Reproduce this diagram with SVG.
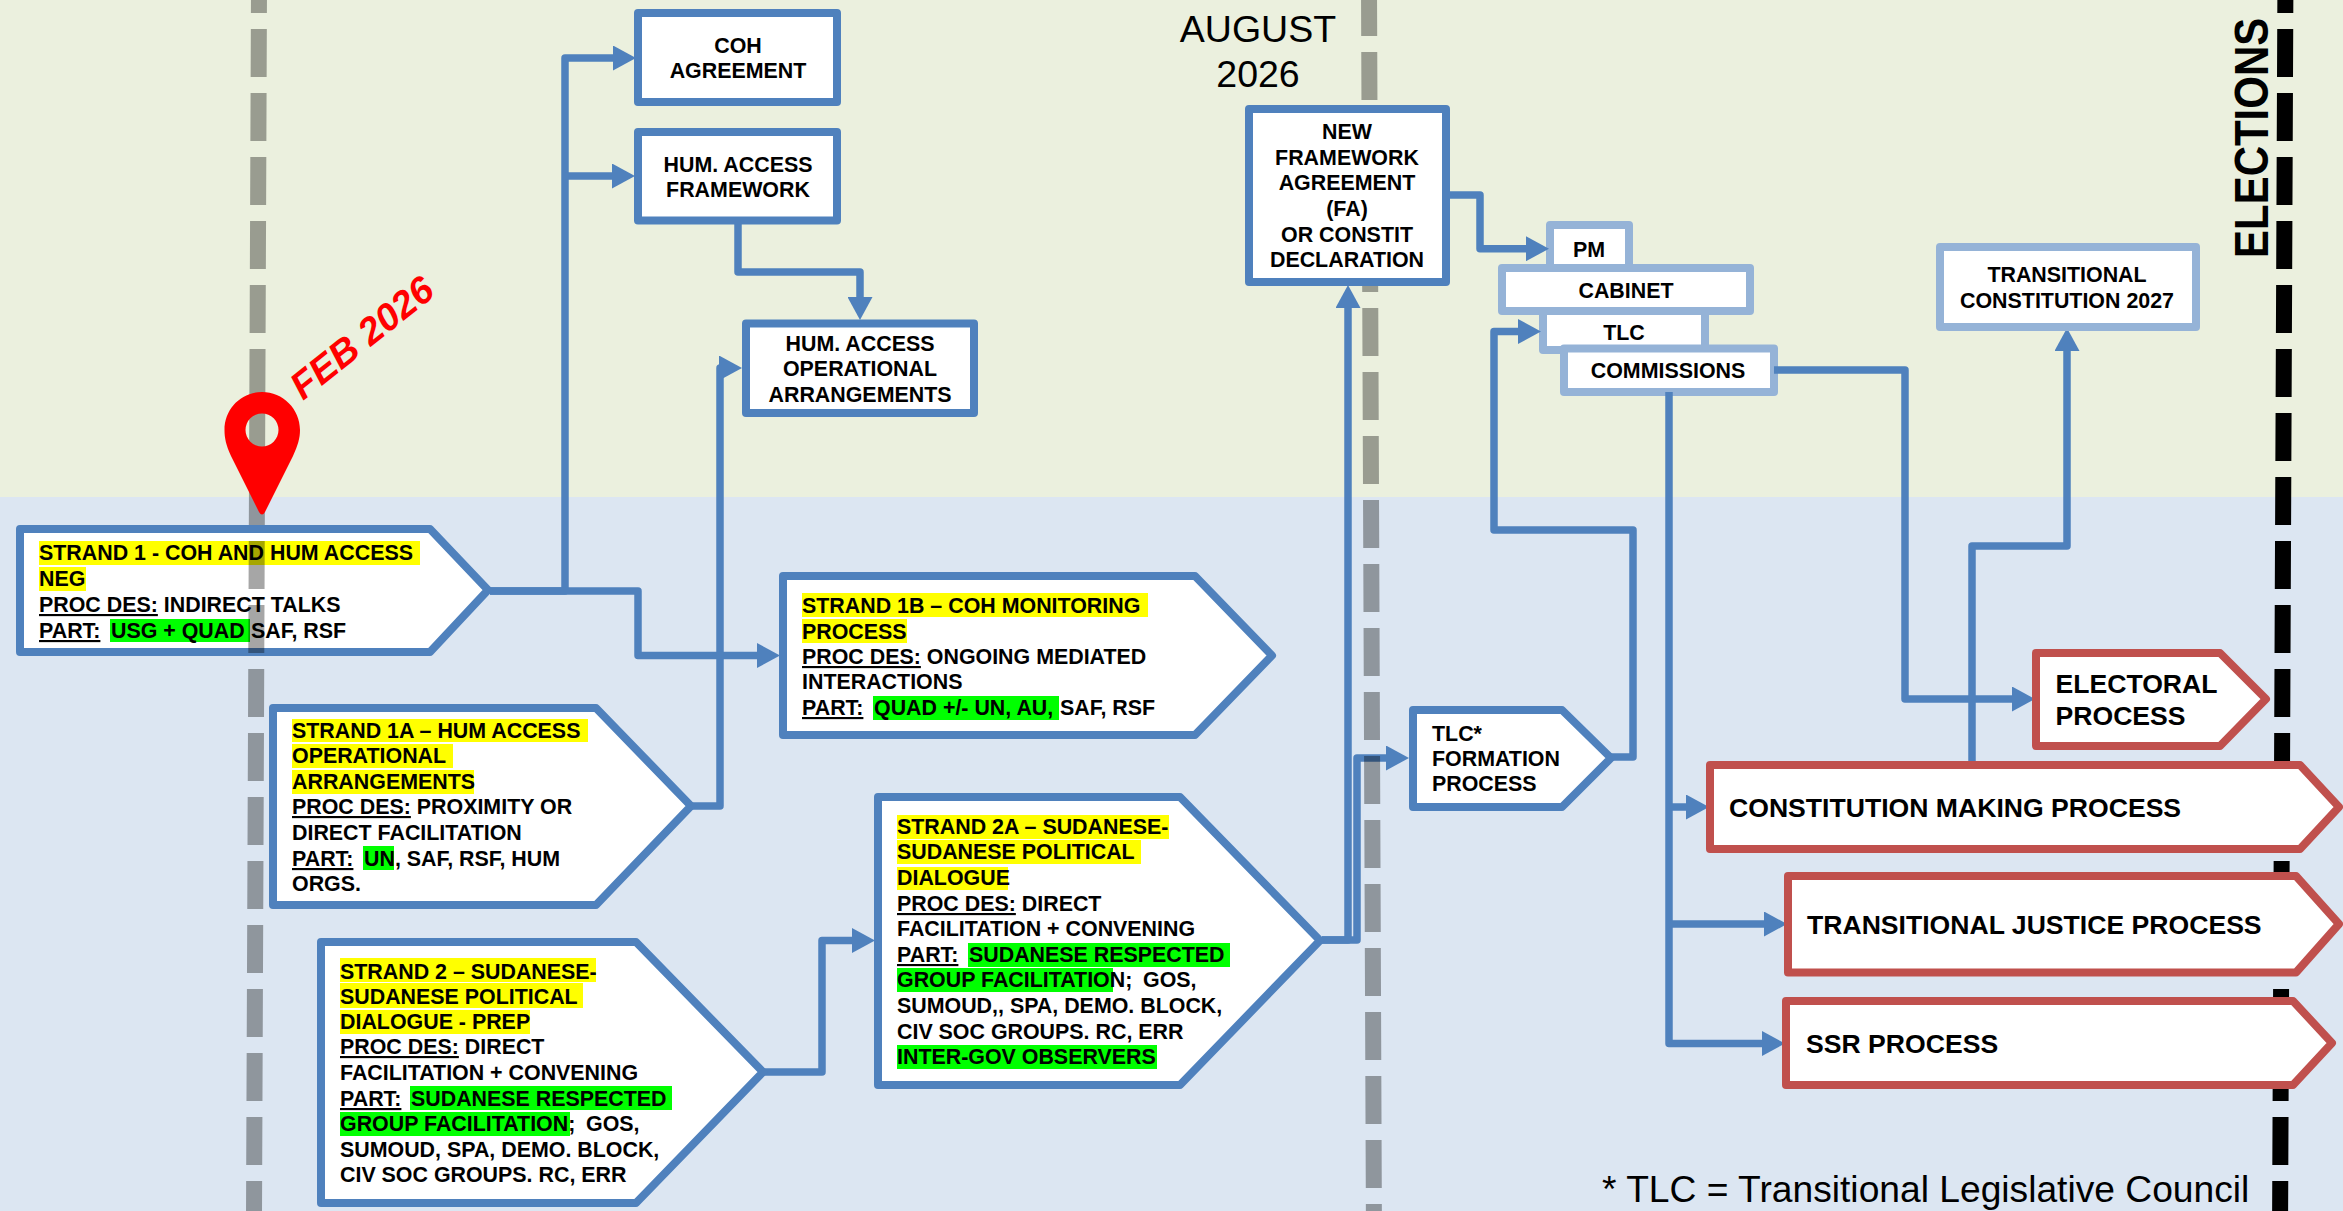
<svg xmlns="http://www.w3.org/2000/svg" width="2343" height="1211" viewBox="0 0 2343 1211">
<style>
text{font-family:"Liberation Sans",Arial,sans-serif;fill:#000}
.b{font-size:21.4px;font-weight:bold}
.c{text-anchor:middle}
.l{font-size:26.6px;font-weight:bold}
.u{text-decoration:underline}
.n{fill:#fff;stroke:#4F81BD;stroke-width:8;stroke-linejoin:round}
.p{fill:#fff;stroke:#95B3D7;stroke-width:8;stroke-linejoin:round}
.r{fill:#fff;stroke:#C0504D;stroke-width:8;stroke-linejoin:round}
.y{fill:#FFFF00}
.g{fill:#00FF00}
.k{fill:none;stroke:#4F81BD;stroke-width:7.5;stroke-linejoin:round}
.d{fill:none;stroke:#000;stroke-opacity:.35;stroke-width:16;stroke-dasharray:48 16}
.e{fill:none;stroke:#000;stroke-width:16;stroke-dasharray:48 16}
</style>
<defs>
<marker id="arr" markerUnits="userSpaceOnUse" markerWidth="23" markerHeight="25" viewBox="0 0 23 25" refX="13" refY="12.5" orient="auto"><path d="M0 0L23 12.5L0 25Z" fill="#4F81BD"/></marker>
</defs>
<rect id="bg-top" x="0" y="0" width="2343" height="497" fill="#EBF0DE"/>
<rect id="bg-bottom" x="0" y="497" width="2343" height="714" fill="#DCE6F2"/>

<g id="pm"><rect class="p" x="1550" y="225" width="79" height="50"/><text class="b c" x="1589" y="257">PM</text></g>
<g id="tlc"><rect class="p" x="1543" y="300" width="162" height="50"/><text class="b c" x="1624" y="340">TLC</text></g>
<g id="cabinet"><rect class="p" x="1502" y="268" width="248" height="43"/><text class="b c" x="1626" y="298">CABINET</text></g>
<g id="commissions"><rect class="p" x="1564" y="348.5" width="210" height="43.5"/><text class="b c" x="1668" y="378">COMMISSIONS</text></g>

<g id="connectors">
<path class="k" d="M490 591H565V58H626" marker-end="url(#arr)"/>
<path class="k" d="M565 176H625" marker-end="url(#arr)"/>
<path class="k" d="M490 591H638V655.5H770" marker-end="url(#arr)"/>
<path class="k" d="M738 224V272H860V310" marker-end="url(#arr)"/>
<path class="k" d="M691 806H720V368H732" marker-end="url(#arr)"/>
<path class="k" d="M764 1072H822V940.5H865" marker-end="url(#arr)"/>
<path class="k" d="M1322 940H1348V295" marker-end="url(#arr)"/>
<path class="k" d="M1322 940H1357V758H1399" marker-end="url(#arr)"/>
<path class="k" d="M1450 195H1480V248.7H1539" marker-end="url(#arr)"/>
<path class="k" d="M1609 757H1633V530H1494V331.5H1531" marker-end="url(#arr)"/>
<path class="k" d="M1669 392V1043.5H1775" marker-end="url(#arr)"/>
<path class="k" d="M1669 924H1777" marker-end="url(#arr)"/>
<path class="k" d="M1669 807H1699" marker-end="url(#arr)"/>
<path class="k" d="M1774 370H1905V699H2025" marker-end="url(#arr)"/>
<path class="k" d="M1972 761V546H2067V338" marker-end="url(#arr)"/>
</g>

<g id="strand-1">
<path class="n" d="M20 529H430L488 590L430 652H20Z"/>
<rect class="y" x="39" y="541" width="381" height="24"/><rect class="y" x="39" y="567" width="47" height="24"/><rect class="g" x="110" y="619" width="140" height="23"/>
<text class="b" x="39" y="560">STRAND 1 - COH AND HUM ACCESS</text>
<text class="b" x="39" y="586">NEG</text>
<text class="b" x="39" y="612"><tspan class="u">PROC DES:</tspan> INDIRECT TALKS</text>
<text class="b" x="39" y="638"><tspan class="u">PART:</tspan><tspan x="111">USG + QUAD</tspan><tspan x="251">SAF, RSF</tspan></text>
</g>

<path id="line-feb" class="d" d="M259.1 -35L253.9 1240"/>
<path id="line-aug" class="d" d="M1369 -12L1374 1244"/>
<path id="line-elections" class="e" d="M2285.5 -35L2280 1240"/>

<g id="coh-agreement"><rect class="n" x="638" y="13" width="199" height="89"/><text class="b c" x="738" y="52.5">COH</text><text class="b c" x="738" y="78">AGREEMENT</text></g>
<g id="hum-framework"><rect class="n" x="638" y="132" width="199" height="88.5"/><text class="b c" x="738" y="172">HUM. ACCESS</text><text class="b c" x="738" y="197">FRAMEWORK</text></g>
<g id="hum-operational"><rect class="n" x="746" y="323.5" width="228" height="89.5"/><text class="b c" x="860" y="351">HUM. ACCESS</text><text class="b c" x="860" y="376">OPERATIONAL</text><text class="b c" x="860" y="402">ARRANGEMENTS</text></g>

<g id="strand-1a">
<path class="n" d="M273 708H596L691 806L596 905H273Z"/>
<rect class="y" x="292" y="719" width="296" height="23"/><rect class="y" x="292" y="744" width="161" height="24"/><rect class="y" x="292" y="770" width="182" height="24"/><rect class="g" x="363" y="846" width="31" height="24"/>
<text class="b" x="292" y="738">STRAND 1A – HUM ACCESS</text>
<text class="b" x="292" y="763">OPERATIONAL</text>
<text class="b" x="292" y="789">ARRANGEMENTS</text>
<text class="b" x="292" y="814"><tspan class="u">PROC DES:</tspan> PROXIMITY OR</text>
<text class="b" x="292" y="840">DIRECT FACILITATION</text>
<text class="b" x="292" y="866"><tspan class="u">PART:</tspan><tspan x="364">UN, SAF, RSF, HUM</tspan></text>
<text class="b" x="292" y="891">ORGS.</text>
</g>

<g id="strand-2">
<path class="n" d="M321 942H636L763 1072L636 1203H321Z"/>
<rect class="y" x="340" y="958" width="256" height="24"/><rect class="y" x="340" y="983" width="243" height="25"/><rect class="y" x="340" y="1010" width="190" height="24"/><rect class="g" x="410" y="1086" width="262" height="24"/><rect class="g" x="340" y="1112" width="230" height="24"/>
<text class="b" x="340" y="978.5">STRAND 2 – SUDANESE-</text>
<text class="b" x="340" y="1003.5">SUDANESE POLITICAL</text>
<text class="b" x="340" y="1029">DIALOGUE - PREP</text>
<text class="b" x="340" y="1054"><tspan class="u">PROC DES:</tspan> DIRECT</text>
<text class="b" x="340" y="1080">FACILITATION + CONVENING</text>
<text class="b" x="340" y="1106"><tspan class="u">PART:</tspan><tspan x="411">SUDANESE RESPECTED</tspan></text>
<text class="b" x="340" y="1131">GROUP FACILITATION;<tspan x="586">GOS,</tspan></text>
<text class="b" x="340" y="1157">SUMOUD, SPA, DEMO. BLOCK,</text>
<text class="b" x="340" y="1181.5">CIV SOC GROUPS. RC, ERR</text>
</g>

<g id="strand-1b">
<path class="n" d="M783 576H1195L1272 655.5L1195 735H783Z"/>
<rect class="y" x="802" y="593" width="346" height="24"/><rect class="y" x="802" y="619" width="105" height="24"/><rect class="g" x="873" y="696" width="186" height="24"/>
<text class="b" x="802" y="613">STRAND 1B – COH MONITORING</text>
<text class="b" x="802" y="639">PROCESS</text>
<text class="b" x="802" y="664"><tspan class="u">PROC DES:</tspan> ONGOING MEDIATED</text>
<text class="b" x="802" y="689">INTERACTIONS</text>
<text class="b" x="802" y="715"><tspan class="u">PART:</tspan><tspan x="874">QUAD +/- UN, AU,</tspan><tspan x="1060">SAF, RSF</tspan></text>
</g>

<g id="strand-2a">
<path class="n" d="M878 797H1180L1320 940.5L1180 1085H878Z"/>
<rect class="y" x="897" y="815" width="272" height="24"/><rect class="y" x="897" y="840" width="244" height="24"/><rect class="y" x="897" y="867" width="111" height="23"/><rect class="g" x="968" y="943" width="262" height="24"/><rect class="g" x="897" y="968" width="216" height="24"/><rect class="g" x="897" y="1045" width="260" height="24"/>
<text class="b" x="897" y="834">STRAND 2A – SUDANESE-</text>
<text class="b" x="897" y="859">SUDANESE POLITICAL</text>
<text class="b" x="897" y="885">DIALOGUE</text>
<text class="b" x="897" y="911"><tspan class="u">PROC DES:</tspan> DIRECT</text>
<text class="b" x="897" y="936">FACILITATION + CONVENING</text>
<text class="b" x="897" y="962"><tspan class="u">PART:</tspan><tspan x="969">SUDANESE RESPECTED</tspan></text>
<text class="b" x="897" y="987">GROUP FACILITATION;<tspan x="1143">GOS,</tspan></text>
<text class="b" x="897" y="1013">SUMOUD,, SPA, DEMO. BLOCK,</text>
<text class="b" x="897" y="1039">CIV SOC GROUPS. RC, ERR</text>
<text class="b" x="897" y="1064">INTER-GOV OBSERVERS</text>
</g>

<g id="framework-agreement">
<rect class="n" x="1249" y="109" width="197" height="173"/>
<text class="b c" x="1347" y="139">NEW</text>
<text class="b c" x="1347" y="165">FRAMEWORK</text>
<text class="b c" x="1347" y="190">AGREEMENT</text>
<text class="b c" x="1347" y="216">(FA)</text>
<text class="b c" x="1347" y="242">OR CONSTIT</text>
<text class="b c" x="1347" y="267">DECLARATION</text>
</g>

<g id="tlc-formation">
<path class="n" d="M1413 710H1562L1611 758L1562 807H1413Z"/>
<text class="b" x="1432" y="740.5">TLC*</text>
<text class="b" x="1432" y="765.5">FORMATION</text>
<text class="b" x="1432" y="791">PROCESS</text>
</g>

<g id="transitional-constitution"><rect class="p" x="1940" y="247" width="256" height="80"/><text class="b c" x="2067" y="282">TRANSITIONAL</text><text class="b c" x="2067" y="308">CONSTITUTION 2027</text></g>

<g id="electoral"><path class="r" d="M2036 653H2220L2266 699L2220 746H2036Z"/><text class="l" x="2055.5" y="692.5">ELECTORAL</text><text class="l" x="2055.5" y="724.5">PROCESS</text></g>
<g id="constitution-making"><path class="r" d="M1710 765H2300L2339 807L2300 849H1710Z"/><text class="l" x="1729" y="817">CONSTITUTION MAKING PROCESS</text></g>
<g id="transitional-justice"><path class="r" d="M1788 876H2296L2339 924L2296 972.5H1788Z"/><text class="l" x="1807" y="934">TRANSITIONAL JUSTICE PROCESS</text></g>
<g id="ssr"><path class="r" d="M1786 1001H2293L2332 1043L2293 1085H1786Z"/><text class="l" x="1806" y="1053">SSR PROCESS</text></g>

<g id="feb-marker">
<path fill="#FF0000" fill-rule="evenodd" d="M262 392C283 392 300 409 300 430C300 438 298 445 293 456L265 512Q262 517 259 512L231 456C226 445 224.5 438 224.5 430C224.5 409 241 392 262 392ZM262 413.5A16.5 16.5 0 1 0 262 446.5A16.5 16.5 0 1 0 262 413.5Z"/>
<text transform="translate(303 401) rotate(-38.5)" style="font-size:38px;font-weight:bold;font-style:italic;fill:#FF0000">FEB 2026</text>
</g>
<text style="font-size:37.5px" class="c" x="1258" y="42">AUGUST</text>
<text style="font-size:37.5px" class="c" x="1258" y="87">2026</text>
<text transform="translate(2268 258) rotate(-90) scale(1 1.13)" style="font-size:42px;font-weight:bold">ELECTIONS</text>
<text style="font-size:37.2px" x="1602" y="1202">* TLC = Transitional Legislative Council</text>
</svg>
